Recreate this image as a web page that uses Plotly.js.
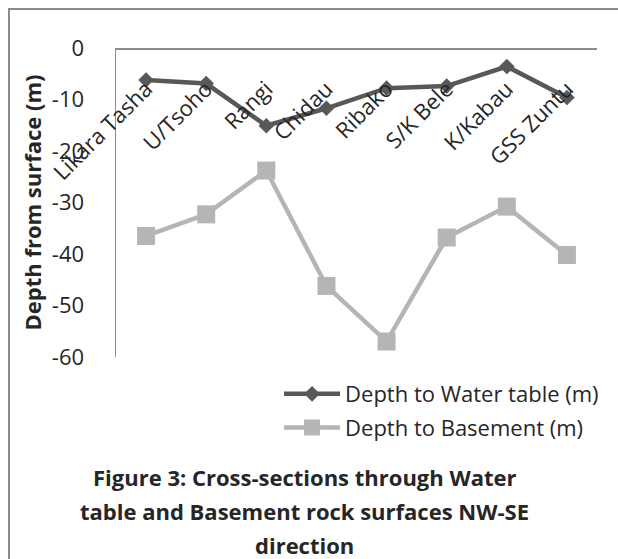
<!DOCTYPE html>
<html>
<head>
<meta charset="utf-8">
<script src="https://cdn.plot.ly/plotly-3.0.1.min.js"></script>
<style>
  html, body { margin: 0; padding: 0; background: #ffffff; }
  #wrap { position: relative; width: 618px; height: 559px; overflow: hidden; }
  #chart { position: absolute; left: 0; top: 0; width: 618px; height: 559px; }
  #frame { position: absolute; left: 8px; top: 8px; width: 640px; height: 600px;
           border-left: 2px solid #8a8a8a; border-top: 2px solid #8a8a8a; pointer-events: none; }
</style>
</head>
<body>
<div id="wrap">
  <div id="chart"></div>
  <div id="frame"></div>
</div>
<script>
// Survey stations along the NW-SE profile
const stations = ["Likara Tasha", "U/Tsoho", "Rangi", "Chidau", "Ribako", "S/K Bele", "K/Kabau", "GSS Zuntu"];
// Depth below ground surface (m), negative downwards
const waterTable = [-6.2, -6.9, -15.1, -11.7, -7.8, -7.4, -3.6, -9.6];
const basement = [-36.5, -32.3, -23.8, -46.2, -57.0, -36.8, -30.8, -40.2];
const yTicks = [0, -10, -20, -30, -40, -50, -60];
const yTickText = ["0", "-10", "-20", "-30", "-40", "-50", "-60"];

const FONT = "'Open Sans', 'Noto Sans', sans-serif";
const TEXT = "#262626";

const traces = [
  {
    x: stations, y: waterTable, name: "Depth to Water table (m)",
    type: "scatter", mode: "lines+markers", legendgroup: "wt",
    line: { color: "#585858", width: 4.5 },
    marker: { symbol: "diamond", size: 12, color: "#585858" }
  },
  {
    x: stations, y: basement, name: "Depth to Basement (m)",
    type: "scatter", mode: "lines+markers", legendgroup: "bs",
    line: { color: "#b5b5b5", width: 4.5 },
    marker: { symbol: "square", size: 18, color: "#b5b5b5" }
  }
];

const layout = {
  width: 618, height: 559,
  margin: { l: 116, r: 21, t: 48, b: 202 },
  paper_bgcolor: "#ffffff", plot_bgcolor: "#ffffff",
  font: { family: FONT, size: 22, color: TEXT },
  showlegend: true,
  xaxis: {
    type: "category", range: [-0.5, 7.5],
    anchor: "free", position: 1, side: "bottom",
    showline: true, linecolor: "#8c8c8c", linewidth: 1.5,
    showgrid: false, zeroline: false, ticks: "",
    tickangle: -45, ticklabelstandoff: 18,
    tickfont: { family: FONT, size: 22, color: TEXT }
  },
  yaxis: {
    range: [-60, 0], tickvals: yTicks, ticktext: yTickText,
    showline: true, linecolor: "#8c8c8c", linewidth: 1.5,
    showgrid: false, zeroline: false, ticks: "",
    ticklabelstandoff: 26,
    tickfont: { family: FONT, size: 22, color: TEXT },
    title: { text: "<b>Depth from surface (m)</b>", standoff: 4,
             font: { family: FONT, size: 22, color: TEXT } }
  },
  legend: {
    x: 0.339, y: -0.052, xanchor: "left", yanchor: "top",
    bgcolor: "rgba(0,0,0,0)", borderwidth: 0,
    traceorder: "grouped", tracegroupgap: 2, itemwidth: 56,
    font: { family: FONT, size: 22, color: TEXT }
  },
  annotations: [
    { text: "<b>Figure 3: Cross-sections through Water</b>", xref: "paper", yref: "paper",
      x: 0.392, y: -0.389, showarrow: false, xanchor: "center", yanchor: "middle",
      font: { family: FONT, size: 22, color: TEXT } },
    { text: "<b>table and Basement rock surfaces NW-SE</b>", xref: "paper", yref: "paper",
      x: 0.392, y: -0.498, showarrow: false, xanchor: "center", yanchor: "middle",
      font: { family: FONT, size: 22, color: TEXT } },
    { text: "<b>direction</b>", xref: "paper", yref: "paper",
      x: 0.392, y: -0.608, showarrow: false, xanchor: "center", yanchor: "middle",
      font: { family: FONT, size: 22, color: TEXT } }
  ]
};

Plotly.newPlot("chart", traces, layout, { displayModeBar: false, staticPlot: true });
</script>
</body>
</html>
